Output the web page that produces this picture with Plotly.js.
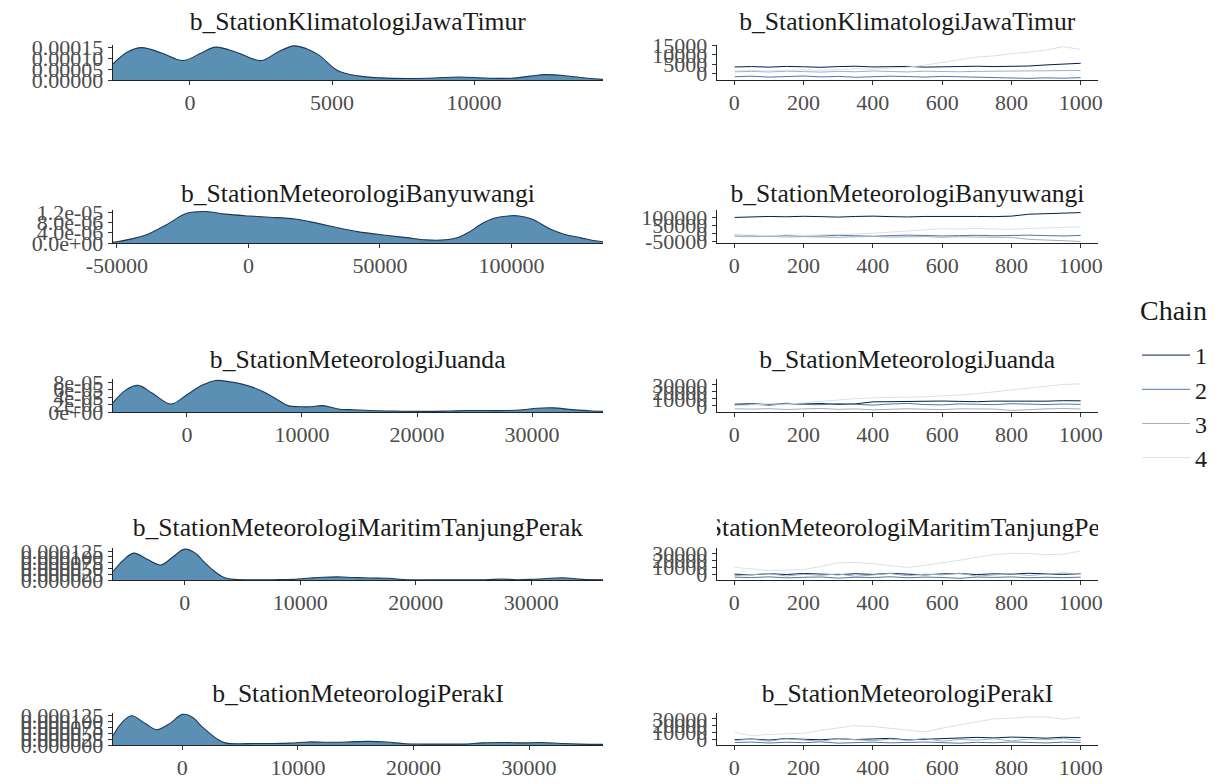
<!DOCTYPE html>
<html><head><meta charset="utf-8">
<script src="https://cdn.plot.ly/plotly-3.0.1.min.js"></script>
<style>html,body{margin:0;padding:0;background:#fff}#chart{width:1222px;height:784px}</style>
</head><body><div id="chart"></div><script>
// ---------- DATA ----------
const panelNames = ["b_StationKlimatologiJawaTimur","b_StationMeteorologiBanyuwangi","b_StationMeteorologiJuanda","b_StationMeteorologiMaritimTanjungPerak","b_StationMeteorologiPerakI"];
const chainNames = ["1","2","3","4"];
const legendTitle = "Chain";

// density curves (x = parameter value, y = density)
const densX1 = [-2711,-2200,-1700,-1000,-250,400,900,1700,2500,3100,3660,4100,4540,5210,5915,6700,7700,8600,9470,10400,11300,12000,12500,13200,14000,14542];
const densY1 = [7.5e-5,13.0e-5,15.0e-5,12.5e-5,9.0e-5,12.5e-5,15.2e-5,12.5e-5,9.0e-5,13.0e-5,15.8e-5,14.5e-5,11.5e-5,4.3e-5,1.9e-5,1.0e-5,0.7e-5,0.9e-5,1.4e-5,0.9e-5,0.8e-5,1.8e-5,2.5e-5,2.0e-5,0.8e-5,0.3e-5];
const densX2 = [-51500,-50000,-44000,-38300,-30800,-23500,-16300,-8800,0,8000,17800,26000,33900,41400,53000,60000,67500,73000,79300,84000,88400,93000,98700,102900,108000,114700,120000,126400,131000,134800];
const densY2 = [0.4e-6,0.5e-6,1.7e-6,3.4e-6,7.3e-6,11.5e-6,12.2e-6,11.2e-6,10.5e-6,10.0e-6,9.3e-6,7.7e-6,5.9e-6,4.4e-6,2.9e-6,2.1e-6,1.2e-6,1.1e-6,2.0e-6,4.3e-6,7.3e-6,9.5e-6,10.5e-6,10.5e-6,9.2e-6,5.4e-6,3.4e-6,2.0e-6,1.0e-6,0.5e-6];
const densX3 = [-6430,-5300,-4260,-3000,-1390,0,1300,2520,3600,4700,5800,6780,7800,8780,10000,10780,11800,13130,14500,15900,18000,20960,22700,24350,26000,27740,29200,30430,31830,33480,35000,36170];
const densY3 = [2.5e-5,5.9e-5,7.1e-5,5.0e-5,2.1e-5,4.6e-5,7.1e-5,8.4e-5,8.1e-5,7.5e-5,6.5e-5,5.2e-5,3.4e-5,1.7e-5,1.4e-5,1.4e-5,1.7e-5,0.8e-5,0.6e-5,0.4e-5,0.25e-5,0.17e-5,0.25e-5,0.38e-5,0.38e-5,0.38e-5,0.6e-5,1.0e-5,1.1e-5,0.63e-5,0.34e-5,0.17e-5];
const densX4 = [-6200,-5300,-4400,-3200,-2070,-1000,0,900,1640,2500,3370,4320,6000,7700,9400,10900,12000,13250,14600,16000,17650,19300,22000,26000,27400,28700,30000,31100,32700,34400,36200];
const densY4 = [36e-6,86e-6,116e-6,88e-6,65e-6,100e-6,133e-6,117e-6,80e-6,40e-6,12e-6,2.7e-6,1.3e-6,1.3e-6,2.7e-6,8.6e-6,12e-6,13.3e-6,10.6e-6,8.6e-6,7.3e-6,1.3e-6,0.7e-6,1.3e-6,4e-6,1.3e-6,2.7e-6,5.3e-6,10e-6,2.7e-6,1.3e-6];
const densX5 = [-6000,-5300,-4400,-3200,-2200,-1000,0,900,1700,3000,3700,5000,6000,7600,9300,10900,12500,14250,16000,17650,19300,21000,23000,24400,26000,28000,29500,31100,32800,34400,36400];
const densY5 = [39e-6,91e-6,124e-6,91e-6,65e-6,94e-6,130e-6,117e-6,78e-6,26e-6,9e-6,5.2e-6,6.5e-6,6.5e-6,7.8e-6,13e-6,11.7e-6,13e-6,15.6e-6,13e-6,5.2e-6,3.9e-6,3.9e-6,3.9e-6,9.1e-6,10.4e-6,9.1e-6,10.4e-6,6.5e-6,3.9e-6,2.6e-6];

// trace plots (iteration vs. value), one array per chain
const iterations = [1,50,100,150,200,250,300,350,400,450,500,550,600,650,700,750,800,850,900,950,1000];
const p1c1 = [3500,3700,3400,3800,3600,3300,3700,3900,3500,3600,3800,3400,3700,3600,3900,3700,3800,4000,4600,5200,5500];
const p1c2 = [-1800,-1500,-2000,-1700,-1400,-1900,-1600,-2100,-1800,-1500,-1700,-2000,-1600,-1800,-1900,-2200,-2500,-2700,-2400,-2600,-2300];
const p1c3 = [900,1100,800,1200,1000,700,1100,900,1300,1000,800,1200,1000,900,1100,1200,1000,1300,1500,1400,1600];
const p1c4 = [1400,1600,1300,1800,2000,1700,2200,2500,2300,2800,3300,4500,6100,7500,8900,9500,10750,11500,12700,14500,13000];
const p2c1 = [98000,101000,104000,102000,105000,103000,100000,104000,106000,103000,101000,104000,105000,102000,104000,103000,106000,118000,122000,126000,128000];
const p2c2 = [-12000,-15000,-18000,-14000,-20000,-17000,-13000,-16000,-19000,-15000,-12000,-14000,-17000,-15000,-13000,-16000,-14000,-12000,-15000,-17000,-14000];
const p2c3 = [-20000,-22000,-19000,-24000,-21000,-23000,-26000,-22000,-20000,-24000,-23000,-21000,-25000,-22000,-24000,-23000,-26000,-38000,-42000,-47000,-51000];
const p2c4 = [-14000,-12000,-16000,-10000,-13000,-11000,-8000,-5000,0,8000,15000,22000,28000,25000,30000,27000,24000,29000,33000,36000,40000];
const p3c1 = [2500,3200,2000,3800,2800,3500,2200,3000,5800,6200,6800,6400,7000,6500,6100,6900,6600,7200,6800,7500,7300];
const p3c2 = [1500,2500,1000,3000,2200,1800,3400,2600,1200,2800,3600,2000,1500,3000,2400,1900,3200,2600,2000,2800,2300];
const p3c3 = [-4000,-4500,-3800,-5000,-4200,-3500,-4800,-4100,-5500,-4300,-3900,-4600,-5200,-4000,-3700,-4400,-6400,-4800,-4100,-3600,-4300];
const p3c4 = [0,1500,3000,2500,5000,6500,8400,10500,11500,12000,11800,13000,14500,15300,17500,20000,22500,24500,27500,30500,31500];
const p4c1 = [200,-800,900,-300,1200,400,-600,800,-200,1400,300,-900,600,1100,-400,700,100,1500,500,-200,900];
const p4c2 = [-4200,-4800,-3700,-5200,-4400,-3900,-5600,-4300,-4700,-3600,-5000,-4100,-4600,-5900,-4000,-4500,-3800,-5100,-4300,-4900,-4200];
const p4c3 = [-2000,-500,1000,-2500,0,-1500,500,-3000,-1000,1200,-2200,200,-800,1500,-2700,-400,800,-1800,300,1900,600];
const p4c4 = [10100,7800,5500,6200,6750,11500,16500,17200,15500,12500,10100,13000,16500,20500,24700,28800,30500,30300,28500,29500,34000];
const p5c1 = [-300,600,-1000,1300,200,-500,1000,-200,700,1600,-700,400,1200,2500,3000,2200,3400,2800,1800,3200,2500];
const p5c2 = [-4500,-3900,-5200,-4100,-4800,-3600,-5400,-4400,-4000,-5000,-4300,-3800,-4700,-5500,-4200,-4900,-3700,-4600,-5100,-4000,-4400];
const p5c3 = [-1500,300,-2400,800,-800,-2800,1100,-300,-1900,500,-1200,1400,-2600,0,-1000,900,-2200,600,-400,1300,-1700];
const p5c4 = [10350,5500,7300,8300,8900,13400,17300,20100,18800,16100,13000,11000,16500,21200,26100,30100,30900,32900,32700,29500,32200];

// tick labels
const densXTicks = [[0,5000,10000],[-50000,0,50000,100000],[0,10000,20000,30000],[0,10000,20000,30000],[0,10000,20000,30000]];
const densYTickVals = [[0,5e-5,10e-5,15e-5],[0,4e-6,8e-6,12e-6],[0,2e-5,4e-5,6e-5,8e-5],[0,25e-6,50e-6,75e-6,100e-6,125e-6],[0,25e-6,50e-6,75e-6,100e-6,125e-6]];
const densYTickText = [["0.00000","0.00005","0.00010","0.00015"],["0.0e+00","4.0e-06","8.0e-06","1.2e-05"],["0e+00","2e-05","4e-05","6e-05","8e-05"],["0.000000","0.000025","0.000050","0.000075","0.000100","0.000125"],["0.000000","0.000025","0.000050","0.000075","0.000100","0.000125"]];
const traceXTicks = [0,200,400,600,800,1000];
const traceYTicks = [[0,5000,10000,15000],[-50000,0,50000,100000],[0,10000,20000,30000],[0,10000,20000,30000],[0,10000,20000,30000]];

// ---------- STYLE / LAYOUT ----------
const densX = [densX1,densX2,densX3,densX4,densX5];
const densY = [densY1,densY2,densY3,densY4,densY5];
const chains = [[p1c1,p1c2,p1c3,p1c4],[p2c1,p2c2,p2c3,p2c4],[p3c1,p3c2,p3c3,p3c4],[p4c1,p4c2,p4c3,p4c4],[p5c1,p5c2,p5c3,p5c4]];
const densXRange = [[-2711,14542],[-51500,134800],[-6430,36170],[-6200,36200],[-6000,36400]];
const densYRange = [[0,1.62e-4],[0,1.28e-5],[0,8.8e-5],[0,1.38e-4],[0,1.36e-4]];
const chainColors = ["#011f4b","#4f77a6","#9fb0c2","#d6e2ec"];

const W = 1222, H = 784;
const leftPx = [113,603], rightPx = [717,1098];
const rowsPx = [[45,80],[210,243],[379,412],[548,580],[713,745]];
const titleYPx = [22,193,359,527,693];
const FONT = "Liberation Serif, Times New Roman, serif";

const tickFont = {family: FONT, size: 22, color: "#4d4d4d"};
function axisBase() {
  return {showline: true, linecolor: "#222", linewidth: 1.3, ticks: "outside", ticklen: 4, tickwidth: 1, tickcolor: "#333",
          showgrid: false, zeroline: false, tickfont: tickFont, fixedrange: true};
}

const data = [];
const layout = {
  width: W, height: H, margin: {l: 0, r: 0, t: 0, b: 0},
  paper_bgcolor: "#fff", plot_bgcolor: "#fff",
  showlegend: true,
  legend: {x: 1137/W, y: 1 - 333/H, xanchor: "left", yanchor: "top",
           font: {family: FONT, size: 24, color: "#1a1a1a"},
           tracegroupgap: 0, itemwidth: 48, bgcolor: "rgba(0,0,0,0)"},
  annotations: [{text: legendTitle, xref: "paper", yref: "paper", x: 1173/W, y: 1 - 311/H,
                 xanchor: "center", yanchor: "middle", showarrow: false,
                 font: {family: FONT, size: 28, color: "#1a1a1a"}}]
};

for (let i = 0; i < 5; i++) {
  const nL = i + 1, nR = i + 6;
  const yd = [1 - rowsPx[i][1]/H, 1 - rowsPx[i][0]/H];
  // density
  data.push({type: "scatter", mode: "lines", x: densX[i], y: densY[i], xaxis: "x" + nL, yaxis: "y" + nL,
             fill: "tozeroy", fillcolor: "#5b90b4", line: {color: "#1c3a57", width: 1.1, shape: "spline", smoothing: 1},
             showlegend: false, hoverinfo: "skip"});
  const xa = Object.assign(axisBase(), {domain: [leftPx[0]/W, leftPx[1]/W], range: densXRange[i], anchor: "y" + nL,
             tickmode: "array", tickvals: densXTicks[i], ticktext: densXTicks[i].map(String), ticklabelstandoff: -2});
  const ya = Object.assign(axisBase(), {domain: yd, range: densYRange[i], anchor: "x" + nL,
             tickmode: "array", tickvals: densYTickVals[i], ticktext: densYTickText[i], ticklabelstandoff: 0});
  layout["xaxis" + (nL === 1 ? "" : nL)] = xa;
  layout["yaxis" + (nL === 1 ? "" : nL)] = ya;
  // trace
  for (let c = 0; c < 4; c++) {
    data.push({type: "scatter", mode: "lines", x: iterations, y: chains[i][c], xaxis: "x" + nR, yaxis: "y" + nR,
               name: chainNames[c], legendgroup: "chain" + c, showlegend: i === 0,
               line: {color: chainColors[c], width: 1}, hoverinfo: "skip"});
  }
  const lo = densXRange[i][0], hi = densXRange[i][1], ex = 0.05 * (hi - lo);
  layout["xaxis" + nR] = Object.assign(axisBase(), {domain: [rightPx[0]/W, rightPx[1]/W], range: [-50, 1050], anchor: "y" + nR,
             tickmode: "array", tickvals: traceXTicks, ticktext: traceXTicks.map(String), ticklabelstandoff: -2});
  layout["yaxis" + nR] = Object.assign(axisBase(), {domain: yd, range: [lo - ex, hi + ex], anchor: "x" + nR,
             tickmode: "array", tickvals: traceYTicks[i], ticktext: traceYTicks[i].map(String), ticklabelstandoff: 0});
  // titles
  const ty = 1 - titleYPx[i]/H;
  layout.annotations.push({text: panelNames[i], xref: "paper", yref: "paper", x: (leftPx[0]+leftPx[1])/2/W, y: ty,
             xanchor: "center", yanchor: "middle", showarrow: false, width: leftPx[1]-leftPx[0],
             font: {family: FONT, size: 25.6, color: "#1a1a1a"}});
  layout.annotations.push({text: panelNames[i], xref: "paper", yref: "paper", x: (rightPx[0]+rightPx[1])/2/W, y: ty,
             xanchor: "center", yanchor: "middle", showarrow: false, width: rightPx[1]-rightPx[0],
             font: {family: FONT, size: 25.6, color: "#1a1a1a"}});
}

Plotly.newPlot("chart", data, layout, {displayModeBar: false, staticPlot: true});
</script></body></html>
